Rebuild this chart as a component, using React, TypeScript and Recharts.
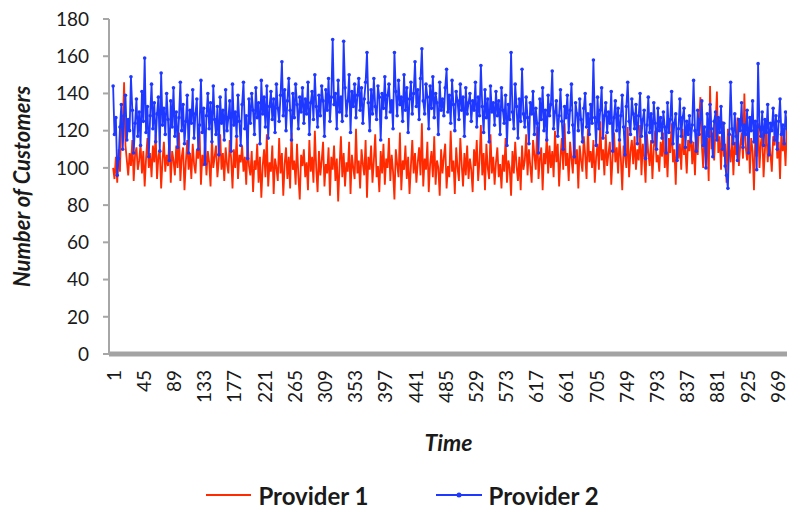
import React from 'react'
import { LineChart, Line, XAxis, YAxis, Legend } from 'recharts'

// sampled every 2 time steps (t = 1, 3, 5, ... 999)
const provider1 = [
  100, 94, 106, 92, 110, 98, 128, 120, 146, 112, 104, 96, 108, 101, 115, 93, 107, 111, 99, 104,
  113, 97, 109, 90, 105, 116, 100, 108, 95, 112, 103, 118, 94, 106, 110, 89, 104, 114, 98, 107,
  101, 117, 92, 109, 104, 96, 112, 100, 119, 93, 106, 111, 88, 103, 115, 99, 108, 94, 113, 102,
  97, 110, 105, 120, 91, 107, 101, 114, 96, 109, 103, 90, 116, 100, 106, 112, 95, 104, 118, 99,
  108, 93, 111, 102, 97, 115, 105, 89, 110, 100, 117, 94, 107, 103, 112, 98, 106, 91, 114, 101,
  96, 109, 87, 104, 99, 113, 92, 106, 84, 101, 110, 95, 118, 90, 103, 98, 112, 86, 105, 100,
  93, 116, 97, 108, 85, 102, 111, 94, 106, 89, 119, 99, 104, 91, 113, 96, 83, 107, 101, 110,
  95, 103, 88, 115, 98, 106, 92, 120, 100, 87, 109, 96, 104, 114, 90, 102, 97, 111, 85, 106,
  99, 112, 93, 105, 82, 101, 117, 95, 108, 90, 103, 98, 114, 86, 107, 100, 94, 121, 97, 104,
  89, 110, 102, 96, 115, 84, 106, 99, 112, 92, 104, 118, 95, 101, 87, 109, 97, 113, 91, 105,
  100, 116, 93, 107, 98, 83, 110, 102, 95, 119, 88, 104, 99, 112, 94, 106, 86, 101, 115, 97,
  108, 92, 103, 111, 96, 124, 90, 105, 99, 114, 87, 102, 109, 95, 117, 91, 104, 100, 85, 110,
  97, 106, 113, 89, 101, 95, 120, 98, 104, 86, 111, 100, 93, 116, 102, 90, 108, 96, 112, 94,
  105, 99, 87, 110, 101, 115, 93, 104, 123, 96, 108, 88, 113, 100, 94, 118, 97, 106, 91, 103,
  111, 95, 102, 89, 107, 98, 116, 92, 104, 100, 85, 109, 97, 114, 101, 93, 106, 88, 112, 99,
  104, 118, 96, 110, 101, 92, 115, 107, 99, 122, 94, 105, 111, 88, 108, 102, 117, 97, 112, 100,
  109, 95, 120, 103, 113, 90, 106, 116, 99, 124, 101, 108, 93, 114, 105, 97, 119, 102, 110, 89,
  112, 104, 98, 117, 107, 94, 121, 103, 109, 100, 115, 92, 106, 113, 99, 125, 104, 110, 96, 118,
  101, 108, 114, 91, 106, 119, 103, 111, 97, 116, 105, 88, 112, 107, 100, 122, 95, 109, 115, 102,
  117, 99, 110, 104, 123, 96, 113, 106, 92, 118, 108, 101, 115, 94, 111, 120, 103, 107, 98, 114,
  106, 119, 100, 112, 95, 116, 108, 124, 103, 110, 91, 117, 105, 113, 99, 121, 107, 111, 97, 115,
  109, 122, 102, 114, 96, 118, 107, 126, 138, 112, 100, 120, 105, 116, 93, 144, 110, 119, 104, 123,
  141, 108, 117, 99, 125, 106, 113, 92, 121, 110, 103, 118, 96, 114, 107, 127, 101, 112, 119, 105,
  140, 111, 104, 122, 97, 116, 109, 88, 118, 106, 124, 100, 113, 119, 95, 110, 121, 103, 115, 108,
  98, 117, 112, 126, 105, 114, 94, 120, 109, 116, 101, 123, 107, 113, 97, 118, 110, 104, 119, 106,
]

const provider2 = [
  144, 118, 127, 96, 105, 122, 134, 110, 128, 139, 115, 126, 120, 149, 131, 108, 124, 137, 117, 130,
  112, 141, 125, 159, 119, 133, 106, 128, 145, 121, 135, 114, 129, 138, 109, 151, 123, 132, 118, 140,
  126, 104, 136, 122, 143, 117, 130, 111, 127, 146, 120, 134, 113, 125, 139, 108, 131, 124, 142, 116,
  129, 137, 110, 123, 147, 119, 132, 102, 128, 140, 121, 135, 114, 144, 126, 118, 133, 107, 138, 124,
  131, 115, 142, 120, 127, 136, 109, 145, 123, 130, 117, 139, 125, 112, 134, 146, 121, 128, 105, 137,
  124, 140, 131, 118, 143, 127, 135, 113, 147, 129, 138, 122, 144, 116, 133, 141, 126, 137, 119, 145,
  132, 125, 139, 157, 128, 142, 120, 136, 148, 131, 115, 140, 127, 145, 134, 121, 138, 130, 143, 124,
  137, 129, 146, 118, 135, 141, 126, 150, 133, 122, 139, 128, 144, 136, 117, 142, 131, 148, 125, 138,
  169, 134, 140, 121, 147, 130, 138, 125, 168, 143, 128, 136, 150, 119, 141, 133, 145, 127, 139, 148,
  131, 143, 124, 137, 146, 162, 135, 120, 142, 129, 148, 133, 126, 144, 138, 115, 140, 132, 149, 127,
  139, 145, 130, 136, 121, 162, 141, 128, 147, 134, 138, 125, 150, 131, 143, 119, 137, 146, 129, 140,
  157, 133, 142, 126, 148, 164, 136, 129, 145, 138, 121, 144, 132, 149, 127, 140, 135, 118, 146, 131,
  137, 128, 143, 153, 130, 139, 124, 147, 134, 120, 141, 136, 126, 145, 131, 138, 117, 143, 129, 135,
  140, 125, 136, 131, 146, 122, 138, 128, 155, 133, 119, 142, 127, 137, 114, 144, 130, 135, 123, 141,
  128, 136, 118, 143, 131, 124, 139, 112, 134, 126, 162, 130, 121, 145, 133, 116, 137, 125, 153, 129,
  122, 138, 127, 113, 135, 129, 141, 118, 132, 124, 108, 137, 126, 143, 120, 131, 115, 139, 128, 134,
  152, 121, 130, 136, 117, 128, 142, 125, 110, 133, 127, 139, 119, 131, 145, 123, 106, 135, 129, 120,
  137, 126, 114, 132, 140, 122, 129, 118, 134, 124, 158, 127, 112, 138, 121, 131, 143, 116, 128, 135,
  119, 130, 124, 141, 109, 127, 136, 120, 132, 115, 128, 139, 122, 107, 133, 146, 125, 118, 137, 129,
  121, 134, 113, 128, 140, 117, 126, 131, 105, 123, 138, 119, 129, 114, 135, 124, 110, 132, 120, 127,
  116, 130, 122, 108, 135, 119, 126, 141, 113, 124, 129, 104, 121, 137, 117, 127, 132, 111, 125, 118,
  128, 114, 123, 147, 120, 109, 131, 118, 126, 136, 112, 122, 100, 129, 117, 134, 121, 106, 125, 130,
  115, 127, 119, 133, 110, 124, 101, 96, 89, 118, 146, 121, 113, 129, 117, 104, 126, 120, 135, 111,
  123, 118, 131, 108, 127, 120, 136, 114, 125, 99, 156, 122, 117, 130, 112, 126, 119, 134, 107, 124,
  120, 132, 115, 128, 110, 125, 137, 118, 123, 113, 130, 121, 127, 108, 133, 119, 124, 116, 129, 122,
]

const timeTicks = [1, 45, 89, 133, 177, 221, 265, 309, 353, 397, 441, 485, 529, 573, 617, 661, 705, 749, 793, 837, 881, 925, 969]
const customerTicks = [0, 20, 40, 60, 80, 100, 120, 140, 160, 180]

const data = provider1.map((v, i) => ({ time: 1 + i * 2, p1: v, p2: provider2[i] }))

const RED = '#ff2a00'
const BLUE = '#1f38ff'
const FONT = 'Lato, "Open Sans", sans-serif'

const TimeTick = (props: any) => {
  const { x, y, payload } = props
  return (
    <text x={x} y={y} transform={`rotate(-90 ${x} ${y})`} textAnchor='end' dominantBaseline='central'
      fontFamily={FONT} fontSize={19} fill='#1a1a1a'>
      {payload.value}
    </text>
  )
}

const LegendContent = () => (
  <div style={{ display: 'flex', justifyContent: 'center', alignItems: 'center', gap: 67, height: 34,
    fontFamily: FONT, fontWeight: 700, fontSize: 24, color: '#1a1a1a' }}>
    <span style={{ display: 'flex', alignItems: 'center', gap: 7 }}>
      <svg width={45} height={10}><line x1={0} y1={5} x2={45} y2={5} stroke={RED} strokeWidth={2} /></svg>
      <span>Provider 1</span>
    </span>
    <span style={{ display: 'flex', alignItems: 'center', gap: 7 }}>
      <svg width={46} height={10}>
        <line x1={0} y1={5} x2={46} y2={5} stroke={BLUE} strokeWidth={2} />
        <circle cx={23} cy={5} r={2.5} fill={BLUE} />
      </svg>
      <span>Provider 2</span>
    </span>
  </div>
)

export default function App() {
  return (
    <div style={{ position: 'absolute', left: 0, top: 0, width: 787, height: 511, overflow: 'hidden', background: '#fff' }}>
      <LineChart width={805} height={511} data={data} margin={{ top: 19, right: 3, bottom: 0, left: 0 }}>
        <XAxis dataKey='time' type='number' domain={[-5, 1005]} ticks={timeTicks} interval={0}
          height={157} stroke='#a3a3a3' strokeWidth={5} tickLine={false} tickSize={0} tickMargin={16}
          tick={<TimeTick />}
          label={{ value: 'Time', position: 'insideBottom', offset: 60, dx: -7, fontFamily: FONT, fontSize: 23,
            fontWeight: 700, fontStyle: 'italic', fill: '#1a1a1a' }} />
        <YAxis domain={[0, 180]} ticks={customerTicks} interval={0} width={109}
          stroke='#a6a6a6' strokeWidth={2} tickSize={6} tickMargin={14}
          tick={{ fontFamily: FONT, fontSize: 19, fill: '#1a1a1a' }}
          label={{ value: 'Number of Customers', angle: -90, position: 'insideLeft', offset: 22,
            style: { textAnchor: 'middle' }, fontFamily: FONT, fontSize: 22, fontWeight: 700,
            fontStyle: 'italic', fill: '#1a1a1a' }} />
        <Legend layout='horizontal' verticalAlign='middle' content={<LegendContent />}
          wrapperStyle={{ top: 478, left: 0, width: 805, height: 34 }} />
        <Line type='linear' dataKey='p1' name='Provider 1' stroke={RED} strokeWidth={1.8}
          dot={false} isAnimationActive={false} />
        <Line type='linear' dataKey='p2' name='Provider 2' stroke={BLUE} strokeWidth={1.8}
          dot={{ r: 1.8, fill: BLUE, stroke: 'none' }} isAnimationActive={false} />
      </LineChart>
    </div>
  )
}
